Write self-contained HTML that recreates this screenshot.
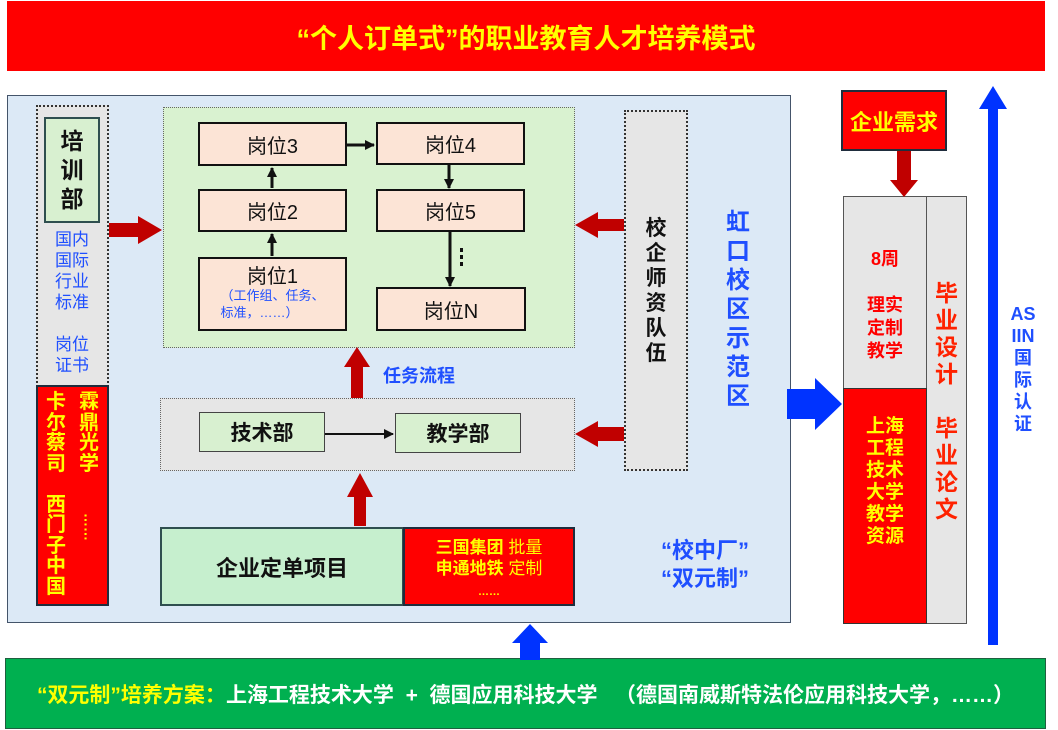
<!DOCTYPE html>
<html><head><meta charset="utf-8">
<style>
*{margin:0;padding:0;box-sizing:border-box}
body{width:1058px;height:730px;background:#fff;position:relative;overflow:hidden;font-family:"Liberation Sans","Noto Sans CJK SC",sans-serif}
.a{position:absolute}
.c{display:flex;align-items:center;justify-content:center;text-align:center}
.v{position:absolute;text-align:center;font-weight:bold}
.post{position:absolute;background:#fce4d6;border:2px solid #111;font-size:20px;color:#111;display:flex;align-items:center;justify-content:center}
</style></head><body>
<div class="a c" style="left:7px;top:1px;width:1038px;height:70px;background:#ff0000;color:#ffff00;font-size:27px;font-weight:bold">“个人订单式”的职业教育人才培养模式</div>

<div class="a" style="left:7px;top:95px;width:784px;height:528px;background:#dce9f6;border:1px solid #44546a"></div>

<!-- left column -->
<div class="a" style="left:36px;top:105px;width:73px;height:282px;background:#e6e6e6;border:2px dotted #333"></div>
<div class="a c" style="left:44px;top:117px;width:56px;height:106px;background:#d8f0d0;border:2px solid #2f4f4f;font-size:23px;font-weight:bold;line-height:29px;color:#111">培<br>训<br>部</div>
<div class="a" style="left:46px;top:229px;width:52px;font-size:17px;line-height:21px;color:#1f4fff;text-align:center">国内<br>国际<br>行业<br>标准<br><br>岗位<br>证书</div>
<div class="a" style="left:36px;top:385px;width:73px;height:221px;background:#ff0000;border:2px solid #1f2d3d"></div>
<div class="v" style="left:44px;top:392px;width:24px;font-size:20px;line-height:20.5px;color:#ffff00">卡<br>尔<br>蔡<br>司<br><br>西<br>门<br>子<br>中<br>国</div>
<div class="v" style="left:77px;top:392px;width:24px;font-size:20px;line-height:20.5px;color:#ffff00">霖<br>鼎<br>光<br>学<br><br><span style="display:inline-block;writing-mode:vertical-rl;font-size:14px;margin-top:18px">……</span></div>

<!-- green region -->
<div class="a" style="left:163px;top:107px;width:412px;height:241px;background:#d9f2d0;border:1px dotted #666"></div>
<div class="post" style="left:198px;top:122px;width:149px;height:44px">岗位3</div>
<div class="post" style="left:198px;top:189px;width:149px;height:43px">岗位2</div>
<div class="post" style="left:198px;top:257px;width:149px;height:74px;flex-direction:column;line-height:20px"><span>岗位1</span><span style="font-size:13px;color:#1f4fff;line-height:17px">（工作组、任务、<br>标准，……）</span></div>
<div class="post" style="left:376px;top:122px;width:149px;height:43px">岗位4</div>
<div class="post" style="left:376px;top:189px;width:149px;height:43px">岗位5</div>
<div class="post" style="left:376px;top:287px;width:150px;height:44px">岗位N</div>

<!-- gray middle region -->
<div class="a" style="left:160px;top:398px;width:415px;height:73px;background:#e6e6e6;border:1px dotted #666"></div>
<div class="a c" style="left:199px;top:412px;width:126px;height:40px;background:#d8f0d0;border:1px solid #444;font-size:21px;font-weight:bold;color:#111">技术部</div>
<div class="a c" style="left:395px;top:413px;width:126px;height:40px;background:#d8f0d0;border:1px solid #444;font-size:21px;font-weight:bold;color:#111">教学部</div>
<div class="a" style="left:383px;top:362px;font-size:18px;font-weight:bold;color:#1f4fff">任务流程</div>

<!-- bottom boxes -->
<div class="a c" style="left:160px;top:527px;width:244px;height:79px;background:#c6efce;border:2px solid #2f4f4f;font-size:22px;font-weight:bold;color:#111">企业定单项目</div>
<div class="a" style="left:403px;top:527px;width:172px;height:79px;background:#ff0000;border:2px solid #1f2d3d;color:#ffff00;font-size:17px;font-weight:bold;text-align:center;line-height:21px;padding-top:8px">三国集团 <span style="font-weight:normal">批量</span><br>申通地铁 <span style="font-weight:normal">定制</span><br><span style="font-size:11px;line-height:14px">……</span></div>

<!-- teachers column -->
<div class="a c" style="left:624px;top:110px;width:64px;height:361px;background:#e6e6e6;border:2px dotted #333;font-size:21px;font-weight:bold;color:#111;line-height:25px">校<br>企<br>师<br>资<br>队<br>伍</div>
<div class="v" style="left:722px;top:208px;width:32px;font-size:24px;line-height:29px;color:#1f4fff">虹<br>口<br>校<br>区<br>示<br>范<br>区</div>
<div class="a" style="left:645px;top:537px;width:120px;text-align:center;font-size:22px;font-weight:bold;line-height:28px;color:#1f4fff">“校中厂”<br>“双元制”</div>

<!-- right side -->
<div class="a c" style="left:841px;top:90px;width:106px;height:61px;background:#ff0000;border:2px solid #1f2d3d;color:#ffff00;font-size:22px;font-weight:bold">企业需求</div>
<div class="a" style="left:843px;top:196px;width:124px;height:428px;background:#e6e6e6;border:1px solid #555"></div>
<div class="a" style="left:926px;top:196px;width:1px;height:428px;background:#555"></div>
<div class="a" style="left:843px;top:388px;width:84px;height:236px;background:#ff0000;border:1px solid #333"></div>
<div class="v" style="left:843px;top:248px;width:84px;font-size:18px;line-height:23px;color:#ff0000">8周<br><br>理实<br>定制<br>教学</div>
<div class="v" style="left:843px;top:416px;width:84px;font-size:19px;line-height:22px;color:#ffff00">上海<br>工程<br>技术<br>大学<br>教学<br>资源</div>
<div class="v" style="left:924px;top:280px;width:45px;font-size:23px;line-height:27px;color:#ff2200">毕<br>业<br>设<br>计<br><br>毕<br>业<br>论<br>文</div>
<div class="v" style="left:1001px;top:303px;width:44px;font-size:18px;line-height:22px;color:#1f4fff">AS<br>IIN<br>国<br>际<br>认<br>证</div>

<!-- bottom bar -->
<div class="a c" style="left:5px;top:658px;width:1041px;height:71px;background:#00b050;border:1px solid #1f5f3f;font-size:21px;font-weight:bold;color:#fff;white-space:pre"><span style="color:#ffff00">“双元制”培养方案：</span>上海工程技术大学  +  德国应用科技大学   （德国南威斯特法伦应用科技大学，……）</div>

<svg class="a" style="left:0;top:0" width="1058" height="730">
<defs><marker id="ah" markerWidth="10" markerHeight="10" refX="9" refY="5" orient="auto" markerUnits="userSpaceOnUse"><path d="M0,0 L10,5 L0,10z" fill="#111"/></marker></defs>
<g stroke="#111" stroke-width="3" fill="none">
<line x1="272" y1="256" x2="272" y2="234" marker-end="url(#ah)"/>
<line x1="272" y1="188" x2="272" y2="168" marker-end="url(#ah)"/>
<line x1="347" y1="145" x2="374" y2="145" marker-end="url(#ah)"/>
<line x1="449" y1="165" x2="449" y2="188" marker-end="url(#ah)"/>
<line x1="450" y1="232" x2="450" y2="286" marker-end="url(#ah)"/>
<line x1="325" y1="434" x2="393" y2="434" stroke-width="2" marker-end="url(#ah)"/>
</g>
<g fill="#111"><rect x="460" y="248" width="3" height="4"/><rect x="460" y="255" width="3" height="4"/><rect x="460" y="262" width="3" height="4"/></g>
<g fill="#c00000">
<path d="M109,223 L138,223 L138,216 L162,230 L138,244 L138,237 L109,237z"/>
<path d="M624,219 L598,219 L598,212 L575,225 L598,238 L598,231 L624,231z"/>
<path d="M624,427 L598,427 L598,421 L575,434 L598,447 L598,441 L624,441z"/>
<path d="M351,398 L351,367 L344,367 L357,347 L370,367 L363,367 L363,398z"/>
<path d="M354,526 L354,497 L347,497 L360,473 L373,497 L366,497 L366,526z"/>
<path d="M897,151 L911,151 L911,180 L918,180 L904,197 L890,180 L897,180z"/>
</g>
<g fill="#0033ff">
<path d="M787,389 L815,389 L815,378 L842,404 L815,430 L815,419 L787,419z"/>
<path d="M520,660 L520,643 L512,643 L530,624 L548,643 L540,643 L540,660z"/>
<path d="M988,645 L988,109 L979,109 L993,86 L1007,109 L998,109 L998,645z"/>
</g>
</svg>
</body></html>
